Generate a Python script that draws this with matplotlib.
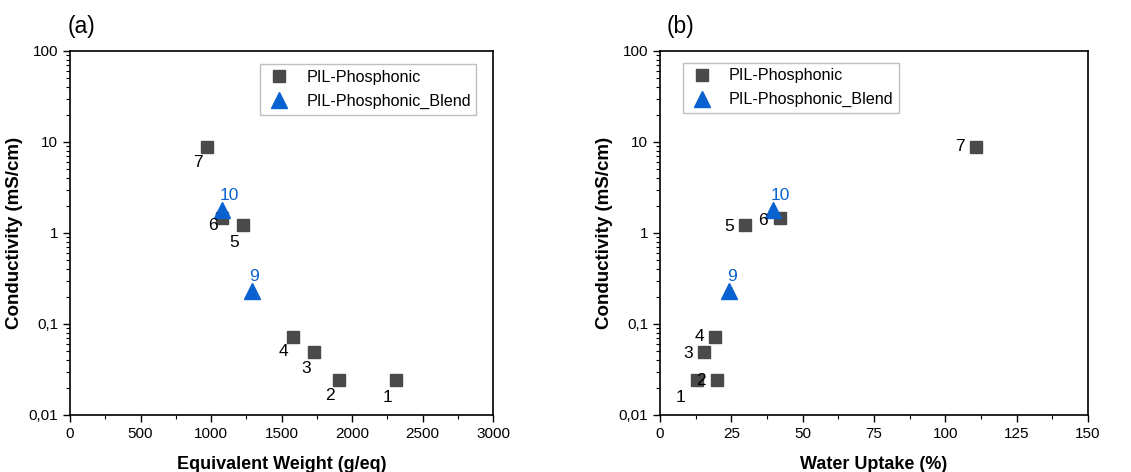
import matplotlib
matplotlib.use("Agg")
import matplotlib.pyplot as plt
from matplotlib.ticker import LogLocator, FixedLocator, FixedFormatter, MultipleLocator, NullFormatter

plt.rcParams['font.family'] = ['Liberation Sans', 'DejaVu Sans']

# sample numbers
ids_pil = ["1", "2", "3", "4", "5", "6", "7"]
ids_blend = ["9", "10"]

# equivalent weight (g/eq)
ew_pil = [2315, 1910, 1733, 1580, 1228, 1076, 970]
ew_blend = [1288, 1076]

# water uptake (%)
wu_pil = [12.9, 19.9, 15.4, 19.3, 29.8, 42.0, 110.8]
wu_blend = [24.2, 39.5]

# conductivity (mS/cm)
cond_pil = [0.024, 0.0245, 0.049, 0.072, 1.22, 1.46, 8.9]
cond_blend = [0.23, 1.8]

# label offsets in pixels (dx, dy)
off_a = [(-9, -17), (-9, -16), (-8, -16), (-9, -15), (-9, -17), (-9, -7), (-9, -16)]
off_a_blend = [(2, 15), (8, 14)]
off_b = [(-16, -17), (-16, -1), (-16, -1), (-16, 0), (-16, -1), (-17, -2), (-16, 0)]
off_b_blend = [(3, 15), (8, 14)]

GREY = "#4a4a4a"
BLUE = "#0a62d0"


def style_axes(ax, xmax, xmajor, xminor, xlabel):
    ax.set_yscale("log")
    ax.set_ylim(0.01, 100)
    ax.set_xlim(0, xmax)
    ax.xaxis.set_major_locator(MultipleLocator(xmajor))
    ax.xaxis.set_minor_locator(MultipleLocator(xminor))
    ax.yaxis.set_major_locator(FixedLocator([0.01, 0.1, 1, 10, 100]))
    ax.yaxis.set_major_formatter(FixedFormatter(["0,01", "0,1", "1", "10", "100"]))
    ax.yaxis.set_minor_locator(LogLocator(base=10, subs=range(2, 10), numticks=20))
    ax.yaxis.set_minor_formatter(NullFormatter())
    ax.tick_params(which="major", direction="out", length=5, width=1, labelsize=11)
    ax.tick_params(which="minor", direction="out", length=3, width=0.8)
    for s in ax.spines.values():
        s.set_linewidth(1.2)
    ax.set_xlabel(xlabel, fontsize=13, fontweight="bold", labelpad=11)
    ax.set_ylabel("Conductivity (mS/cm)", fontsize=13.5, fontweight="bold", labelpad=4)


def draw(ax, x_pil, x_blend, offs, offs_blend, legend_loc, legend_anchor):
    ax.plot(x_pil, cond_pil, "s", color=GREY, ms=9, label="PIL-Phosphonic")
    ax.plot(x_blend, cond_blend, "^", color=BLUE, ms=11, label="PIL-Phosphonic_Blend")
    for x, y, t, o in zip(x_pil, cond_pil, ids_pil, offs):
        ax.annotate(t, (x, y), xytext=o, textcoords="offset pixels",
                    ha="center", va="center", fontsize=12.5, color="black")
    for x, y, t, o in zip(x_blend, cond_blend, ids_blend, offs_blend):
        ax.annotate(t, (x, y), xytext=o, textcoords="offset pixels",
                    ha="center", va="center", fontsize=12.5, color=BLUE)
    leg = ax.legend(loc=legend_loc, bbox_to_anchor=legend_anchor, fontsize=11.6,
                    fancybox=False, edgecolor="#b0b0b0", handletextpad=0.9,
                    handlelength=1.6, borderpad=0.35, labelspacing=0.55)
    leg.get_frame().set_linewidth(1.0)


fig = plt.figure(figsize=(11.31, 4.72), dpi=100)
ax1 = fig.add_axes([0.0619, 0.1208, 0.374, 0.7712])
ax2 = fig.add_axes([0.5836, 0.1208, 0.3784, 0.7712])

style_axes(ax1, 3000, 500, 250, "Equivalent Weight (g/eq)")
draw(ax1, ew_pil, ew_blend, off_a, off_a_blend, "upper right", (0.98, 0.985))

style_axes(ax2, 150, 25, 12.5, "Water Uptake (%)")
draw(ax2, wu_pil, wu_blend, off_b, off_b_blend, "upper left", (0.035, 0.99))

fig.text(0.060, 0.943, "(a)", fontsize=16.5, va="center")
fig.text(0.589, 0.943, "(b)", fontsize=16.5, va="center")

fig.savefig("out.png", dpi=100)
